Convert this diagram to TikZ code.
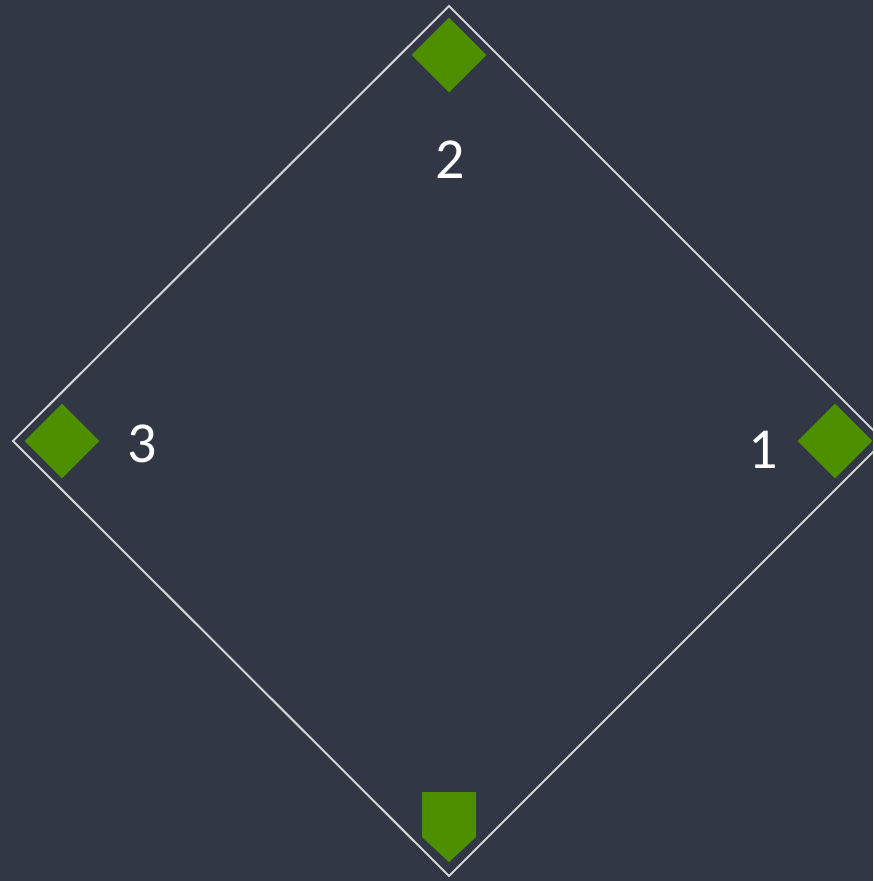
\documentclass[tikz,border=0pt]{standalone}
\usepackage{fontspec}
\setmainfont{Carlito}
\usetikzlibrary{shapes.geometric}
\definecolor{bgc}{HTML}{323745}
\definecolor{basec}{HTML}{4E8F00}
\definecolor{linec}{HTML}{D4D4D4}
\tikzset{
  base/.style={diamond, fill=basec, draw=none, minimum width=75pt, minimum height=75pt, inner sep=0pt, aspect=1},
  lbl/.style={text=white, font=\fontsize{58}{60}\selectfont, inner sep=0pt},
  field/.style={draw=linec, line width=2pt, line join=miter}
}
\begin{document}
\begin{tikzpicture}[x=1pt,y=-1pt]
\fill[bgc] (0,0) rectangle (873,881);
\useasboundingbox (0,0) rectangle (873,881);
\clip (0,0) rectangle (873,881);
\coordinate (ftop) at (449,6);
\coordinate (fright) at (884,441);
\coordinate (fbottom) at (449,876);
\coordinate (fleft) at (13,441);
\draw[field] (ftop) -- (fright) -- (fbottom) -- (fleft) -- cycle;
\node[base] (second) at (449,55) {};
\node[base] (third) at (62,441) {};
\node[base] (first) at (835,441) {};
\coordinate (home) at (449,827);
\fill[basec] (422,792) -- (476,792) -- (476,837) -- (449,862) -- (422,837) -- cycle;
\node[lbl] (l2) at (450,160) {2};
\node[lbl] (l3) at (142,444) {3};
\node[lbl] (l1) at (763,450) {1};
\end{tikzpicture}
\end{document}
